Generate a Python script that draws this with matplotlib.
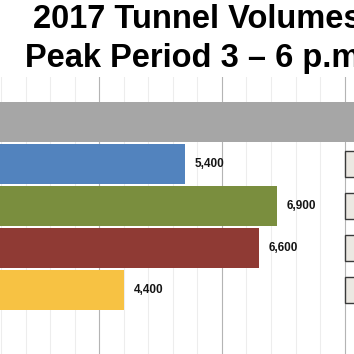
import matplotlib.pyplot as plt
from matplotlib.patches import Rectangle
from matplotlib.ticker import MultipleLocator

# datos del grafico
categorias = ["Total", "Tunel 1", "Tunel 2", "Tunel 3", "Tunel 4"]
volumenes = [23300, 5400, 6900, 6600, 4400]
etiquetas = ["23,300", "5,400", "6,900", "6,600", "4,400"]
colores = ["#a6a6a6", "#5283be", "#7a8e3e", "#8f3a34", "#f7c243"]
con_caja = [False, True, True, True, True]

fig = plt.figure(figsize=(3.54, 3.54), dpi=100)
ax = fig.add_axes([0, 0, 1, 1 - 77 / 354])

y = list(range(len(categorias)))
ax.barh(y, volumenes, height=0.94, color=colores, zorder=2)

for i, (v, txt) in enumerate(zip(volumenes, etiquetas)):
    if i == 0:
        continue
    ax.annotate(txt, xy=(v, i), xytext=(7, 0), textcoords="offset points",
                ha="left", va="center", fontsize=8.5, fontweight="bold",
                family="Liberation Sans", color="#151515")

# cajas a la derecha (cortadas)
for i, c in enumerate(con_caja):
    if c:
        ax.add_patch(Rectangle((8000, i - 0.31), 3000, 0.62, facecolor="#ebe8e2",
                               edgecolor="#3a3a3a", linewidth=1.0, zorder=3))

ax.set_xlim(2376, 8155)
ax.set_ylim(5.524, -1.071)

ax.xaxis.set_major_locator(MultipleLocator(2000))
ax.xaxis.set_minor_locator(MultipleLocator(400))
ax.grid(axis="x", which="major", color="#b4b4b4", linewidth=0.8, zorder=0)
ax.grid(axis="x", which="minor", color="#ededed", linewidth=0.8, zorder=0)
ax.set_axisbelow(True)
ax.tick_params(which="both", length=0, labelbottom=False, labelleft=False)
for s in ax.spines.values():
    s.set_visible(False)

fig.text(197 / 354, 1 - 28.3 / 354, "2017 Tunnel Volumes", ha="center", va="baseline",
         fontsize=23.5, fontweight="bold", family="Liberation Sans")
fig.text(197 / 354, 1 - 66.5 / 354, "Peak Period 3 – 6 p.m.", ha="center", va="baseline",
         fontsize=23.5, fontweight="bold", family="Liberation Sans")

fig.savefig("out.png", dpi=100)
